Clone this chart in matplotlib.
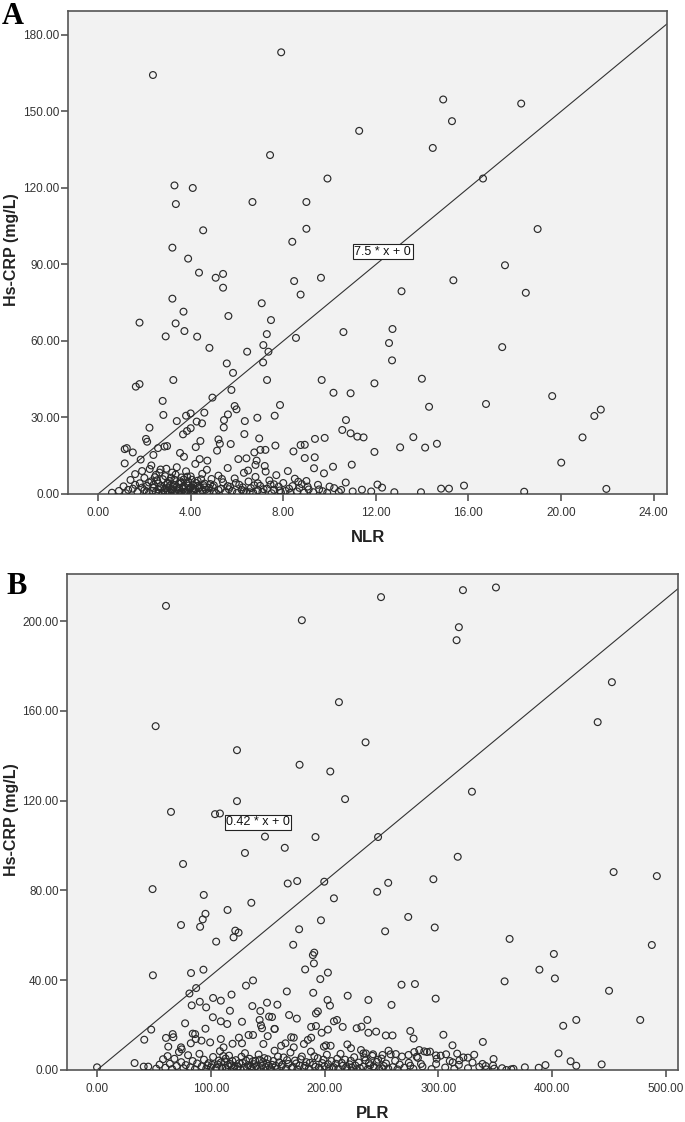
import numpy as np
import matplotlib
matplotlib.use('Agg')
import matplotlib.pyplot as plt

plt.rcParams['font.family'] = ['Liberation Sans', 'DejaVu Sans']

# panel A: NLR vs Hs-CRP, (NLR, CRP) pairs
nlr_high = [(2.37, 164.3), (7.91, 173.2), (14.91, 154.7), (18.28, 153.1), (15.29, 146.2),
            (11.28, 142.4), (14.46, 135.7), (7.43, 132.9), (9.91, 123.7), (16.63, 123.7),
            (3.30, 121.0), (4.09, 120.0), (3.36, 113.7), (6.67, 114.5), (9.00, 114.5),
            (18.99, 103.9), (4.54, 103.4), (9.00, 104.0), (8.39, 98.9), (3.21, 96.6),
            (3.89, 92.3)]
nlr_right = [(17.58, 89.7), (15.35, 83.8), (13.11, 79.5), (18.48, 78.9), (12.72, 64.7),
             (12.57, 59.2), (12.70, 52.4), (17.46, 57.6), (11.94, 43.4), (13.99, 45.2),
             (14.30, 34.2), (16.76, 35.3), (19.62, 38.4), (21.72, 33.1), (21.44, 30.6),
             (20.93, 22.2), (20.01, 12.3), (11.47, 22.2), (11.94, 16.5), (13.62, 22.3),
             (13.05, 18.3), (14.13, 18.2), (14.64, 19.7), (12.07, 3.7), (12.27, 2.5),
             (11.40, 1.7), (11.80, 1.0), (12.80, 0.7), (13.95, 0.7), (14.82, 2.1),
             (15.16, 2.1), (15.81, 3.3), (18.41, 0.9), (21.96, 2.0)]
nlr_mid = [(4.36, 86.8), (5.08, 84.8), (5.40, 86.3), (5.40, 80.9), (8.47, 83.5), (9.63, 84.8),
           (8.75, 78.2), (3.21, 76.6), (3.69, 71.5), (7.07, 74.8), (1.79, 67.2), (3.35, 66.9),
           (3.73, 63.9), (2.92, 61.8), (4.28, 61.7), (5.63, 69.8), (7.47, 68.2), (7.29, 62.7),
           (4.81, 57.3), (6.44, 55.8), (7.14, 58.4), (7.36, 55.8), (8.55, 61.2), (10.60, 63.5),
           (7.13, 51.6), (5.56, 51.2), (5.83, 47.5), (3.25, 44.7), (7.30, 44.7), (1.63, 42.1),
           (1.79, 43.1), (9.66, 44.7), (10.17, 39.7), (10.91, 39.5), (4.94, 37.8), (5.76, 40.8),
           (2.79, 36.5), (2.82, 31.0), (3.40, 28.6), (3.80, 30.7), (4.00, 31.6), (4.59, 31.9),
           (4.26, 28.4), (4.49, 27.7), (3.67, 23.4), (3.84, 24.7), (4.00, 25.8), (2.22, 26.0),
           (2.07, 21.6), (2.12, 20.5), (5.44, 29.0), (5.43, 26.1), (5.61, 31.2), (5.90, 34.5),
           (5.98, 33.2), (6.34, 28.6), (6.88, 29.9), (7.63, 30.7), (7.86, 34.9), (6.32, 23.5),
           (6.96, 21.8), (5.73, 19.6), (5.20, 21.4), (5.26, 19.7), (5.14, 17.0), (4.42, 20.8),
           (4.22, 18.4), (7.66, 19.0), (8.75, 19.2), (8.93, 19.3), (8.44, 16.7), (9.37, 21.6),
           (9.79, 22.0), (10.55, 25.1), (10.71, 29.0), (10.91, 23.8), (11.20, 22.5),
           (9.36, 14.4), (8.93, 14.1), (9.33, 10.1), (9.76, 8.1), (10.15, 10.7), (10.96, 11.5),
           (1.15, 17.6), (1.24, 18.0), (1.50, 16.3), (1.15, 12.0), (1.84, 13.5), (2.23, 9.8),
           (2.39, 15.3), (2.87, 18.6), (2.98, 18.8), (2.59, 18.0), (3.54, 16.1), (3.71, 14.6),
           (4.39, 13.7), (4.72, 13.1), (6.06, 13.7), (6.41, 14.0), (6.75, 16.3), (6.85, 13.1),
           (7.01, 17.3), (7.23, 17.3), (6.80, 11.4), (7.24, 8.8), (6.48, 9.2)]
nlr_low = [(0.6, 0.5), (0.9, 1.2), (1.1, 3.0), (1.2, 0.3), (1.4, 5.5), (1.5, 2.1), (1.6, 7.8),
           (1.7, 0.8), (1.8, 4.2), (1.9, 9.0), (2.0, 1.5), (2.0, 6.3), (2.1, 3.2), (2.2, 0.4),
           (2.3, 11.2), (2.3, 5.0), (2.4, 2.4), (2.5, 7.5), (2.5, 0.9), (2.6, 4.1), (2.6, 1.8),
           (2.7, 9.6), (2.7, 3.0), (2.8, 0.3), (2.8, 5.8), (2.9, 2.2), (2.9, 7.0), (3.0, 1.1),
           (3.0, 4.4), (3.1, 0.5), (3.1, 3.3), (3.2, 8.4), (3.2, 1.9), (3.3, 5.6), (3.3, 0.2),
           (3.4, 2.7), (3.4, 10.5), (3.5, 4.0), (3.5, 1.2), (3.6, 6.5), (3.6, 0.6), (3.7, 3.1),
           (3.7, 2.0), (3.8, 8.9), (3.8, 0.3), (3.9, 4.8), (3.9, 1.5), (4.0, 2.6), (4.0, 6.9),
           (4.1, 0.8), (4.1, 3.7), (4.2, 1.9), (4.2, 11.8), (4.3, 5.2), (4.3, 0.4), (4.4, 2.9),
           (4.5, 7.9), (4.5, 1.3), (4.6, 4.1), (4.7, 0.6), (4.7, 9.5), (4.8, 2.4), (4.9, 5.9),
           (5.0, 1.0), (5.0, 3.4), (5.1, 0.3), (5.2, 7.2), (5.3, 2.0), (5.4, 4.6), (5.5, 0.7),
           (5.6, 10.2), (5.7, 2.8), (5.8, 1.2), (5.9, 6.1), (6.0, 0.4), (6.1, 3.6), (6.2, 1.7),
           (6.3, 8.3), (6.4, 0.9), (6.5, 4.9), (6.6, 2.3), (6.7, 0.5), (6.8, 6.7), (6.9, 1.4),
           (7.0, 3.2), (7.1, 0.8), (7.2, 11.0), (7.3, 2.1), (7.4, 5.3), (7.5, 0.3), (7.6, 1.6),
           (7.7, 7.4), (7.8, 2.9), (7.9, 0.6), (8.0, 4.3), (8.1, 1.2), (8.2, 9.0), (8.3, 0.4),
           (8.4, 3.1), (8.5, 6.0), (8.6, 1.0), (8.7, 2.4), (8.9, 0.5), (9.0, 5.1), (9.1, 1.8),
           (9.3, 0.7), (9.5, 3.6), (9.7, 1.1), (9.9, 0.4), (10.2, 2.3), (10.4, 0.8), (10.7, 4.5),
           (11.0, 1.0), (2.6, 0.2), (2.9, 0.7), (3.2, 1.4), (3.5, 2.4), (3.8, 1.0), (4.1, 2.1),
           (4.4, 0.9), (4.6, 2.6), (3.0, 3.9), (3.3, 3.6), (3.6, 4.4), (3.9, 3.3), (2.7, 2.3),
           (3.4, 0.6), (4.0, 0.2), (4.3, 3.2), (3.1, 5.1), (3.7, 5.7), (2.4, 3.7), (2.1, 1.0),
           (4.8, 0.2), (5.2, 1.6), (5.6, 3.1), (6.3, 1.1), (6.9, 4.2), (7.6, 3.8), (8.8, 3.9),
           (2.55, 5.4), (2.85, 1.5), (3.05, 2.6), (3.15, 6.4), (3.25, 3.0), (3.45, 1.9),
           (3.55, 5.0), (3.65, 2.6), (3.75, 0.9), (3.85, 4.1), (3.95, 2.2), (4.05, 5.6),
           (4.15, 1.3), (4.25, 4.3), (4.35, 2.3), (4.55, 3.5), (4.65, 1.7), (4.85, 3.9),
           (2.35, 1.2), (2.45, 6.6), (2.65, 8.4), (2.95, 9.9), (3.35, 7.6), (3.85, 6.8),
           (4.45, 5.8), (4.95, 2.8), (5.35, 5.9), (5.65, 1.9), (5.95, 4.3), (6.25, 2.6),
           (6.55, 0.7), (6.75, 3.4), (7.15, 1.9), (7.45, 3.7), (7.85, 1.4), (8.25, 2.1),
           (8.65, 4.8), (9.05, 2.9), (9.55, 1.8), (10.0, 2.9), (10.5, 1.6), (1.3, 1.6),
           (1.6, 3.6), (1.9, 2.5), (2.2, 4.5)]

# panel B: PLR vs Hs-CRP
plr_high = [(60.6, 206.8), (249.6, 210.7), (321.6, 213.8), (350.6, 215.0), (180.0, 200.4),
            (318.0, 197.3), (316.0, 191.5), (452.5, 172.8), (212.6, 163.9), (440.0, 155.0),
            (51.5, 153.2), (236.0, 146.0), (123.0, 142.5), (178.0, 136.0), (205.0, 133.0),
            (329.5, 124.0), (218.0, 120.7), (123.0, 119.8), (65.0, 115.0), (103.7, 114.0),
            (108.0, 114.3), (147.6, 104.0), (192.0, 103.8), (247.0, 103.8), (165.0, 99.0),
            (130.0, 96.7), (317.0, 95.0), (75.6, 91.8), (454.0, 88.2), (492.0, 86.4)]
plr_mid = [(48.8, 80.6), (93.8, 78.0), (114.7, 71.3), (135.6, 74.5), (167.6, 83.1), (175.9, 84.2),
           (199.7, 83.9), (208.2, 76.5), (73.8, 64.6), (95.3, 69.6), (92.9, 67.1), (90.6, 63.8),
           (121.5, 62.1), (120.0, 59.1), (124.4, 61.2), (104.7, 57.2), (177.6, 62.7), (172.4, 55.8),
           (196.8, 66.7), (190.9, 52.3), (189.7, 51.2), (190.6, 47.5), (182.9, 44.8), (202.9, 43.4),
           (196.2, 40.5), (49.1, 42.2), (82.6, 43.2), (93.5, 44.7), (87.1, 36.5), (81.2, 34.1),
           (130.9, 37.6), (137.1, 39.9), (83.2, 28.8), (90.3, 30.4), (95.9, 27.9), (102.0, 32.1),
           (108.8, 30.9), (118.2, 33.6), (116.8, 26.4), (101.8, 23.5), (108.8, 21.7), (114.4, 20.5),
           (127.4, 21.5), (136.5, 28.5), (143.5, 26.3), (149.4, 30.0), (158.5, 29.1), (166.8, 35.0),
           (190.0, 34.4), (168.8, 24.5), (175.6, 22.9), (192.4, 25.2), (194.1, 26.1), (202.6, 31.2),
           (204.7, 28.7), (220.3, 33.1),
           (246.2, 79.4), (255.9, 83.4), (295.6, 85.0), (273.5, 68.2), (253.2, 61.8), (296.8, 63.5),
           (362.6, 58.4), (401.5, 51.7), (388.8, 44.7), (402.4, 40.8), (358.2, 39.5), (487.6, 55.7),
           (450.0, 35.3), (267.6, 38.0), (279.4, 38.3), (297.6, 31.8), (238.5, 31.2), (258.8, 29.0),
           (477.4, 22.3), (421.2, 22.3), (409.7, 19.7), (237.6, 22.3), (238.5, 16.6), (245.3, 17.1),
           (253.8, 15.4), (259.7, 15.4), (275.3, 17.4), (278.2, 14.0),
           (77.4, 20.8), (95.3, 18.4), (47.6, 18.0), (41.5, 13.5), (142.9, 22.3), (151.2, 23.8),
           (153.8, 23.6), (144.1, 19.9), (145.0, 18.6), (155.9, 18.3), (188.2, 19.2), (192.4, 19.6),
           (197.4, 16.6), (202.9, 18.0), (208.2, 21.7), (210.9, 22.3), (215.9, 19.2), (228.2, 18.6),
           (232.4, 19.3)]
plr_low = [(60.6, 14.3), (66.5, 16.0), (67.1, 14.6), (62.6, 10.4), (73.8, 10.1), (74.4, 9.2),
           (82.4, 11.9), (84.1, 16.2), (86.2, 16.0), (86.8, 13.8), (91.8, 13.1), (99.4, 12.3),
           (108.8, 13.8), (111.2, 10.1), (119.1, 11.7), (124.7, 14.4), (127.4, 11.9), (133.2, 15.6),
           (137.1, 15.6), (146.2, 11.6), (150.0, 15.1), (156.2, 18.3), (161.8, 10.8), (165.6, 11.9),
           (170.6, 14.6), (172.9, 14.4), (172.9, 10.1), (181.8, 11.6), (185.3, 13.4), (188.2, 14.4),
           (199.4, 10.4), (201.2, 11.0), (205.3, 10.8), (220.0, 11.4), (223.2, 9.7), (234.1, 7.4),
           (304.4, 15.7), (312.4, 11.0), (339.1, 12.5), (348.5, 4.9), (405.6, 7.4), (416.2, 3.9),
           (421.2, 1.9), (443.5, 2.5), (388.2, 1.0), (394.1, 2.2), (359.7, 0.0), (364.1, 0.3),
           (338.8, 2.7), (341.5, 1.8), (349.1, 0.6), (325.9, 5.5), (331.5, 6.8), (318.5, 4.3),
           (316.5, 7.3), (312.6, 3.4), (306.8, 7.0), (297.9, 6.5), (298.5, 5.0), (292.6, 8.2),
           (287.6, 8.3), (283.2, 8.9), (278.8, 8.0), (280.9, 5.9), (284.7, 2.7), (275.3, 1.9),
           (273.8, 6.7), (262.6, 7.1), (256.2, 8.6), (250.9, 6.7), (242.6, 7.0), (236.2, 7.4),
           (0.0, 1.2), (33, 3.1), (41, 1.5), (45, 1.5), (52, 0.6), (55, 2.4), (58, 4.8), (60, 1.0),
           (62, 6.2), (64, 2.8), (66, 0.4), (68, 5.0), (70, 1.8), (72, 8.0), (74, 3.5), (76, 0.8),
           (78, 2.2), (80, 6.6), (82, 1.2), (84, 4.0), (86, 0.3), (88, 2.9), (90, 7.2), (92, 1.6),
           (94, 4.6), (96, 0.6), (98, 3.0), (100, 1.2), (102, 5.8), (104, 0.4), (106, 2.5),
           (108, 8.4), (110, 1.0), (112, 3.8), (114, 0.3), (116, 6.4), (118, 2.0), (120, 0.7),
           (122, 4.4), (124, 1.5), (126, 0.2), (128, 3.2), (130, 7.5), (132, 1.1), (134, 5.0),
           (136, 0.5), (138, 2.6), (140, 1.8), (142, 6.9), (144, 0.3), (146, 3.6), (148, 1.3),
           (150, 4.8), (152, 0.8), (154, 2.3), (156, 8.6), (158, 0.4), (160, 3.4), (162, 1.6),
           (164, 5.6), (166, 0.6), (168, 2.7), (170, 7.8), (172, 1.2), (174, 4.2), (176, 0.3),
           (178, 2.0), (180, 6.0), (182, 1.0), (184, 3.5), (186, 0.5), (188, 8.2), (190, 2.4),
           (192, 1.4), (194, 5.3), (196, 0.2), (198, 3.1), (200, 1.7), (202, 6.8), (204, 0.7),
           (206, 4.0), (208, 1.2), (210, 2.8), (212, 0.4), (214, 7.2), (216, 1.9), (218, 4.6),
           (220, 0.6), (222, 2.5), (224, 1.1), (226, 5.7), (228, 0.3), (230, 3.3), (232, 8.9),
           (234, 1.5), (236, 4.3), (238, 0.5), (240, 2.1), (242, 6.3), (244, 1.0), (246, 3.6),
           (248, 0.4), (250, 5.1), (252, 1.8), (254, 2.9), (256, 0.6), (258, 7.0), (260, 1.3),
           (262, 4.1), (264, 0.3), (266, 2.4), (268, 6.0), (270, 1.0), (274, 3.2), (278, 0.5),
           (282, 5.4), (286, 1.6), (290, 8.0), (294, 0.4), (298, 2.7), (302, 6.4), (306, 1.1),
           (310, 4.0), (314, 0.6), (318, 2.3), (322, 5.6), (326, 0.8), (330, 3.3), (336, 1.4),
           (342, 0.3), (348, 2.0), (356, 0.8), (366, 0.5), (376, 1.2),
           (101, 2.3), (105, 1.0), (109, 3.4), (113, 0.9), (117, 2.7), (121, 1.8), (125, 3.0),
           (129, 0.9), (133, 2.1), (137, 3.9), (141, 0.6), (145, 2.0), (149, 2.9), (153, 0.2),
           (157, 1.9), (113, 5.1), (127, 5.9), (139, 4.1), (119, 4.0), (107, 4.2), (97, 2.1),
           (143, 4.6), (111, 6.2), (115, 2.2), (123, 0.4), (131, 4.2), (135, 1.6), (147, 5.3),
           (151, 1.9), (155, 4.0), (159, 6.0), (163, 2.4), (167, 4.4), (171, 0.9), (175, 2.9),
           (179, 4.8), (183, 1.9), (187, 3.2), (191, 6.1), (195, 1.0), (199, 4.6), (203, 2.6),
           (207, 0.8), (211, 5.0), (215, 3.2), (219, 1.3), (223, 4.1), (227, 2.0), (231, 0.9),
           (235, 5.6), (239, 3.0), (243, 1.6), (247, 4.6), (251, 0.7)]

slope_a = 7.5
slope_b = 0.42
W, H = 685, 1122


def panel(ax, pts, slope, xlim, ylim, xticks, yticks, xlabel, eq, eq_pos):
    pts = np.array(pts)
    ax.set_facecolor('#f2f2f2')
    ax.scatter(pts[:, 0], pts[:, 1], s=24, facecolors='none', edgecolors='#2b2b2b',
               linewidths=0.85, zorder=3)
    ax.plot([0, xlim[1]], [0, slope * xlim[1]], color='#333333', lw=0.8, zorder=2)
    ax.text(eq_pos[0], eq_pos[1], eq, ha='center', va='center', fontsize=9, color='#111',
            zorder=4, bbox=dict(boxstyle='square,pad=0.12', facecolor='white',
                                edgecolor='#222', lw=0.8))
    ax.set_xlim(*xlim)
    ax.set_ylim(*ylim)
    ax.set_xticks(xticks)
    ax.set_yticks(yticks)
    ax.set_xticklabels(['%.2f' % v for v in xticks])
    ax.set_yticklabels(['%.2f' % v for v in yticks])
    for s in ax.spines.values():
        s.set_color('#555555')
        s.set_linewidth(1.2)
    ax.tick_params(axis='both', length=5, width=1.2, color='#555555', labelsize=8.5,
                   labelcolor='#333333', direction='out')
    ax.tick_params(axis='y', pad=1)
    ax.tick_params(axis='x', pad=4)
    ax.set_xlabel(xlabel, fontsize=12, fontweight='bold', color='#222')
    ax.set_ylabel('Hs-CRP (mg/L)', fontsize=11.5, fontweight='bold', color='#222')
    ax.yaxis.label.set_va('center')
    ax.xaxis.label.set_va('center')


fig = plt.figure(figsize=(W / 100, H / 100), dpi=100)

ax1 = fig.add_axes([68 / W, 1 - 494 / H, 599 / W, 483 / H])
panel(ax1, nlr_high + nlr_right + nlr_mid + nlr_low, slope_a, (-1.3, 24.58), (0, 189.4),
      [0, 4, 8, 12, 16, 20, 24], [0, 30, 60, 90, 120, 150, 180], 'NLR', '7.5 * x + 0',
      (12.3, 94.9))
ax1.yaxis.set_label_coords(-56 / 599, 0.505)
ax1.xaxis.set_label_coords(0.5, -43 / 483)

ax2 = fig.add_axes([67 / W, 1 - 1070 / H, 611 / W, 496 / H])
panel(ax2, plr_high + plr_mid + plr_low, slope_b, (-26.4, 510.6), (0, 221),
      [0, 100, 200, 300, 400, 500], [0, 40, 80, 120, 160, 200], 'PLR', '0.42 * x + 0',
      (141.5, 110.5))
ax2.yaxis.set_label_coords(-55 / 611, 0.504)
ax2.xaxis.set_label_coords(0.5, -43 / 496)

fig.text(2 / W, 1 - 2 / H, 'A', ha='left', va='top', fontsize=22, fontweight='bold',
         family='Liberation Serif')
fig.text(6 / W, 1 - 572 / H, 'B', ha='left', va='top', fontsize=22, fontweight='bold',
         family='Liberation Serif')

plt.savefig('out.png', dpi=100)
